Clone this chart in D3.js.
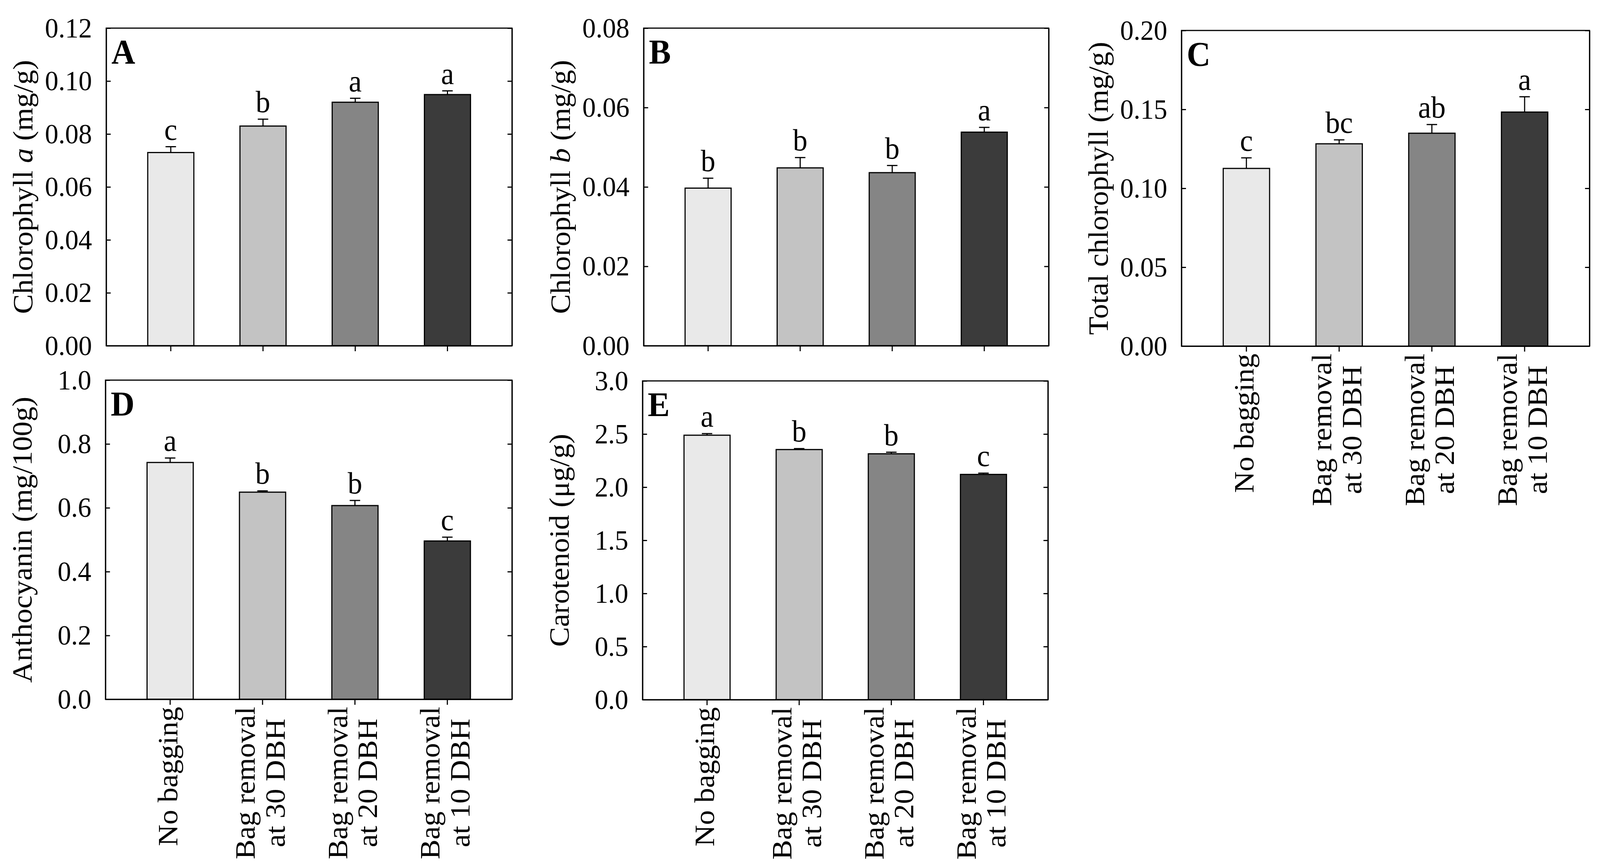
<!DOCTYPE html>
<html>
<head>
<meta charset="utf-8">
<script src="https://cdn.jsdelivr.net/npm/d3@7/dist/d3.min.js"></script>
<style>
  html, body { margin: 0; padding: 0; background: #ffffff; overflow: hidden; width: 100%; height: 100%; }
  svg { display: block; width: 100vw; height: 100vh; }
</style>
</head>
<body>
<svg id="chart" viewBox="0 0 4278 2209" preserveAspectRatio="none"></svg>
<script>
// ---------------- DATA ----------------
const categoryLines = [
  ["No bagging"],
  ["Bag removal", "at 30 DBH"],
  ["Bag removal", "at 20 DBH"],
  ["Bag removal", "at 10 DBH"]
];

const chlA     = [0.0730, 0.0830, 0.0920, 0.0949];
const chlA_se  = [0.0022, 0.0026, 0.0015, 0.0014];
const chlA_sig = ["c", "b", "a", "a"];
const chlA_ticks = [0, 0.02, 0.04, 0.06, 0.08, 0.10, 0.12];

const chlB     = [0.0397, 0.0448, 0.0436, 0.0538];
const chlB_se  = [0.0025, 0.0026, 0.0018, 0.0012];
const chlB_sig = ["b", "b", "b", "a"];
const chlB_ticks = [0, 0.02, 0.04, 0.06, 0.08];

const chlT     = [0.1126, 0.1282, 0.1349, 0.1483];
const chlT_se  = [0.0067, 0.0025, 0.0055, 0.0097];
const chlT_sig = ["c", "bc", "ab", "a"];
const chlT_ticks = [0, 0.05, 0.10, 0.15, 0.20];

const antho     = [0.742, 0.649, 0.607, 0.496];
const antho_se  = [0.014, 0.004, 0.016, 0.012];
const antho_sig = ["a", "b", "b", "c"];
const antho_ticks = [0, 0.2, 0.4, 0.6, 0.8, 1.0];

const carot     = [2.489, 2.354, 2.314, 2.120];
const carot_se  = [0.015, 0.009, 0.015, 0.012];
const carot_sig = ["a", "b", "b", "c"];
const carot_ticks = [0, 0.5, 1.0, 1.5, 2.0, 2.5, 3.0];

const barColors = ["#e9e9e9", "#c3c3c3", "#858585", "#3b3b3b"];

// ---------------- LAYOUT ----------------
const FONT = "'Liberation Serif', 'Times New Roman', Times, serif";
const panels = [
  { letter: "A", x0: 284,  x1: 1369, y0: 72,  y1: 885,  vals: chlA,  se: chlA_se,  sig: chlA_sig,  ticks: chlA_ticks,  fmt: ".2f",
    title: [["Chlorophyll ", false], ["a", true], [" (mg/g)", false]], xlabels: false },
  { letter: "B", x0: 1721, x1: 2804, y0: 72,  y1: 885,  vals: chlB,  se: chlB_se,  sig: chlB_sig,  ticks: chlB_ticks,  fmt: ".2f",
    title: [["Chlorophyll ", false], ["b", true], [" (mg/g)", false]], xlabels: false },
  { letter: "C", x0: 3159, x1: 4250, y0: 78,  y1: 886,  vals: chlT,  se: chlT_se,  sig: chlT_sig,  ticks: chlT_ticks,  fmt: ".2f",
    title: [["Total chlorophyll (mg/g)", false]], xlabels: true },
  { letter: "D", x0: 282,  x1: 1369, y0: 973, y1: 1790, vals: antho, se: antho_se, sig: antho_sig, ticks: antho_ticks, fmt: ".1f",
    title: [["Anthocyanin (mg/100g)", false]], xlabels: true },
  { letter: "E", x0: 1718, x1: 2802, y0: 975, y1: 1791, vals: carot, se: carot_se, sig: carot_sig, ticks: carot_ticks, fmt: ".1f",
    title: [["Carotenoid (\u03bcg/g)", false]], xlabels: true }
];

const svg = d3.select("#chart");
svg.append("rect").attr("width", 4278).attr("height", 2209).attr("fill", "#fff");

function styleAxis(g, fontSize) {
  g.attr("font-family", FONT).attr("font-size", fontSize);
  g.selectAll("line").attr("stroke", "#000").attr("stroke-width", 3);
  g.selectAll("path").attr("stroke", "#000").attr("stroke-width", 3);
  g.selectAll("text").attr("fill", "#000");
}

panels.forEach(p => {
  const g = svg.append("g");
  const idx = p.vals.map((d, i) => i);
  const x = d3.scaleBand().domain(idx).range([p.x0, p.x1]).paddingInner(0.5).paddingOuter(0.45);
  const ymax = p.ticks[p.ticks.length - 1];
  const y = d3.scaleLinear().domain([0, ymax]).range([p.y1, p.y0]);

  // bars
  g.selectAll("rect.bar").data(p.vals).join("rect")
    .attr("class", "bar")
    .attr("x", (d, i) => x(i))
    .attr("y", d => y(d))
    .attr("width", x.bandwidth())
    .attr("height", d => y(0) - y(d))
    .attr("fill", (d, i) => barColors[i])
    .attr("stroke", "#000")
    .attr("stroke-width", 3);

  // error bars + significance letters
  const cap = 14;
  p.vals.forEach((v, i) => {
    const cx = x(i) + x.bandwidth() / 2;
    const top = y(v + p.se[i]);
    g.append("line").attr("x1", cx).attr("x2", cx).attr("y1", y(v)).attr("y2", top)
      .attr("stroke", "#000").attr("stroke-width", 3);
    g.append("line").attr("x1", cx - cap).attr("x2", cx + cap).attr("y1", top).attr("y2", top)
      .attr("stroke", "#000").attr("stroke-width", 3);
    g.append("text").attr("x", cx).attr("y", top - 18)
      .attr("text-anchor", "middle")
      .attr("font-family", FONT).attr("font-size", 78)
      .text(p.sig[i]);
  });

  // axes
  const left = g.append("g").attr("transform", `translate(${p.x0},0)`)
    .call(d3.axisLeft(y).tickValues(p.ticks).tickSize(-12).tickSizeOuter(0).tickPadding(38).tickFormat(d3.format(p.fmt)));
  styleAxis(left, 72);
  const right = g.append("g").attr("transform", `translate(${p.x1},0)`)
    .call(d3.axisRight(y).tickValues(p.ticks).tickSize(-12).tickSizeOuter(0).tickFormat(""));
  styleAxis(right, 72);
  const bottom = g.append("g").attr("transform", `translate(0,${p.y1})`)
    .call(d3.axisBottom(x).tickSize(14).tickSizeOuter(0).tickFormat(""));
  styleAxis(bottom, 72);

  // frame
  g.append("rect").attr("x", p.x0).attr("y", p.y0)
    .attr("width", p.x1 - p.x0).attr("height", p.y1 - p.y0)
    .attr("fill", "none").attr("stroke", "#000").attr("stroke-width", 3);

  // panel letter
  g.append("text").attr("x", p.x0 + 14).attr("y", p.y0 + 90)
    .attr("font-family", FONT).attr("font-size", 88).attr("font-weight", "bold")
    .text(p.letter);

  // y title
  const t = g.append("text")
    .attr("transform", `translate(${p.x0 - 216},${(p.y0 + p.y1) / 2}) rotate(-90)`)
    .attr("text-anchor", "middle").attr("dy", "0.25em")
    .attr("font-family", FONT).attr("font-size", 76);
  p.title.forEach(([s, it]) => {
    t.append("tspan").attr("font-style", it ? "italic" : "normal").text(s);
  });

  // category labels
  if (p.xlabels) {
    const topY = p.y1 + 19;
    const lineGap = 80;
    categoryLines.forEach((lines, i) => {
      const cx = x(i) + x.bandwidth() / 2;
      const n = lines.length;
      const texts = lines.map((s, j) => g.append("text")
        .attr("text-anchor", "middle").attr("dy", "0.25em")
        .attr("font-family", FONT).attr("font-size", 76)
        .text(s));
      const maxW = d3.max(texts, tx => tx.node().getComputedTextLength());
      texts.forEach((tx, j) => {
        const lx = cx + (j - (n - 1) / 2) * lineGap;
        tx.attr("transform", `translate(${lx},${topY + maxW / 2}) rotate(-90)`);
      });
    });
  }
});
</script>
</body>
</html>
